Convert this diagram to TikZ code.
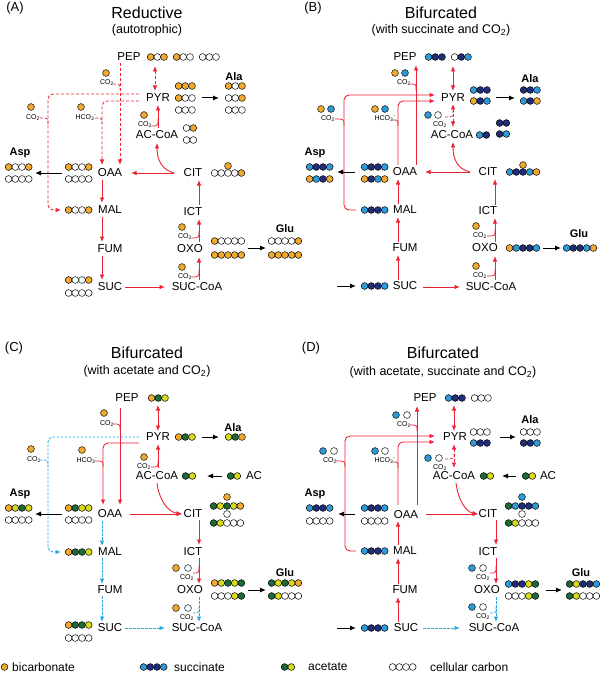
\documentclass[tikz,border=0pt]{standalone}
\usepackage{fontspec}
\setmainfont{Liberation Sans}
\usetikzlibrary{arrows.meta}
\definecolor{co}{HTML}{F2A930}
\definecolor{cw}{HTML}{FFFFFF}
\definecolor{cl}{HTML}{2E9AD8}
\definecolor{cd}{HTML}{1E2D7C}
\definecolor{cg}{HTML}{1B6B35}
\definecolor{cy}{HTML}{D9DA1F}
\definecolor{cred}{HTML}{EE2233}
\definecolor{cblue}{HTML}{29A8E0}
\newcommand\crow[3]{\foreach \mycol [count=\myi from 0] in {#3}{\filldraw[fill=\mycol,draw=black,line width=0.5pt] ({#1+3.6+\myi*6.7},#2) circle (3.4pt);}}
\newcommand\onec[3]{\filldraw[fill=#3,draw=black,line width=0.5pt] (#1,#2) circle (3.4pt);}
\newcommand\COtwo{CO\textsubscript{2}}
\newcommand\HCOthree{HCO\textsubscript{3}\textsuperscript{-}}
\begin{document}
\begin{tikzpicture}[x=1pt,y=-1pt,
 >={Latex[length=5.5pt,width=4.5pt]},
 met/.style={font=\fontsize{11.5}{12}\selectfont,inner sep=0pt},
 ttl/.style={font=\fontsize{16}{17}\selectfont,inner sep=0pt},
 subt/.style={font=\fontsize{12.5}{13}\selectfont,inner sep=0pt},
 lab/.style={font=\fontsize{13}{14}\selectfont,inner sep=0pt},
 prod/.style={font=\bfseries\fontsize{11}{12}\selectfont,inner sep=0pt},
 sm/.style={font=\fontsize{7}{8}\selectfont,inner sep=0pt},
 leg/.style={font=\fontsize{12}{13}\selectfont,inner sep=0pt,anchor=west},
 rln/.style={cred,line width=0.9pt},
 rarr/.style={cred,line width=0.9pt,->},
 rdsh/.style={dash pattern=on 3pt off 2pt},
 bdsh/.style={cblue,line width=0.9pt,dash pattern=on 2.5pt off 1.5pt},
 hk/.style={cred,line width=0.7pt},
 karr/.style={black,line width=1pt,-{Latex[length=6pt,width=5pt]}}]
\useasboundingbox (0,0) rectangle (606,687);
\fill[white] (0,0) rectangle (606,687);

% ================= Panel A =================
\node[lab] (lA) at (15,8) {(A)};
\node[ttl] (tA) at (147,13) {Reductive};
\node[subt] (sA) at (147,30) {(autotrophic)};
\draw[rln,rdsh,->] (120,63) -- (120,165);
\draw[rln,rdsh,->,rounded corners=5pt] (139,94) -- (48,94) -- (48,210) -- (61,210);
\draw[rln,rdsh,->,rounded corners=5pt] (139,101) -- (102,101) -- (102,165);
\draw[rln,rdsh,<->] (155,66) -- (155,91);
\draw[rarr] (158,128) -- (158,105);
\draw[rarr] (174,173) -- (131,173);
\draw[rarr] (174,173) .. controls (162,170) and (157,160) .. (157,143);
\draw[rarr] (102,180) -- (102,203);
\draw[rarr] (102,217) -- (102,242);
\draw[rarr] (102,256) -- (102,280);
\draw[rarr] (125,287) -- (165,287);
\draw[rarr] (199,280) -- (199,257);
\draw[rarr] (199,242) -- (199,219);
\draw[rarr] (199,205) -- (199,180);
\draw[hk,rdsh] (113,84) .. controls (120,84) .. (120,90);
\draw[hk,rdsh] (40,118) .. controls (48,118) .. (48,124);
\draw[hk,rdsh] (95,118) .. controls (102,118) .. (102,124);
\draw[hk] (151,126) .. controls (158,126) .. (158,119);
\draw[hk] (191,277) .. controls (199,277) .. (199,270);
\draw[hk] (191,238) .. controls (199,238) .. (199,231);
\draw[karr] (202,98) -- (219,98);
\draw[karr] (62,173) -- (35,173);
\draw[karr] (248,248) -- (266,248);
\node[met] (aPEP) at (129,57) {PEP};
\node[met] (aPYR) at (158,98) {PYR};
\node[met] (aACC) at (157,135) {AC-CoA};
\node[met] (aOAA) at (110,173) {OAA};
\node[met] (aCIT) at (193,173) {CIT};
\node[met] (aMAL) at (110,210) {MAL};
\node[met] (aICT) at (193,212) {ICT};
\node[met] (aFUM) at (110,249) {FUM};
\node[met] (aOXO) at (190,249) {OXO};
\node[met] (aSUC) at (110,287) {SUC};
\node[met] (aSCA) at (197,287) {SUC-CoA};
\node[prod] (aAla) at (234,77) {Ala};
\node[prod] (aAsp) at (20,153) {Asp};
\node[prod] (aGlu) at (285,229) {Glu};
\onec{106}{73}{co}\node[sm] (ac1) at (107,83) {\COtwo};
\onec{31}{107}{co}\node[sm] (ac2) at (33,118) {\COtwo};
\onec{81}{107}{co}\node[sm] (ac3) at (86,118) {\HCOthree};
\onec{144}{115}{co}\node[sm] (ac4) at (145,125) {\COtwo};
\onec{182}{227}{co}\node[sm] (ac5) at (185,237) {\COtwo};
\onec{182}{267}{co}\node[sm] (ac6) at (185,277) {\COtwo};
\crow{147}{57}{co,cw,co}\crow{173}{57}{co,cw,cw}\crow{199}{57}{cw,cw,cw}
\crow{175}{86}{co,co,co}\crow{175}{98}{co,cw,cw}\crow{175}{110}{cw,cw,cw}
\crow{225}{86}{co,cw,co}\crow{225}{98}{cw,cw,co}\crow{225}{110}{cw,cw,cw}
\crow{183}{128}{cw,co}\crow{183}{140}{cw,cw}
\onec{228}{166}{co}\crow{211}{173}{cw,cw,cw,cw,co}
\crow{65}{167}{co,cw,cw,co}\crow{65}{179}{cw,cw,cw,cw}
\crow{5}{167}{co,cw,cw,co}\crow{5}{179}{cw,cw,cw,cw}
\crow{65}{210}{co,cw,cw,co}
\crow{65}{280}{co,cw,cw,co}\crow{65}{293}{cw,cw,cw,cw}
\crow{211}{241}{co,cw,cw,cw,cw}\crow{211}{255}{co,co,co,co,co}
\crow{268}{241}{cw,cw,cw,cw,co}\crow{268}{255}{co,co,co,co,co}

% ================= Panel B =================
\node[lab] (lB) at (313,8) {(B)};
\node[ttl] (tB) at (441,13) {Bifurcated};
\node[subt] (sB) at (441,30) {(with succinate and \COtwo)};
\draw[rarr] (416,165) -- (416,65);
\draw[rarr,rounded corners=5pt] (398,165) -- (398,101) -- (435,101);
\draw[rarr,rounded corners=5pt] (356,210) -- (344,210) -- (344,95) -- (435,95);
\draw[rln,<->] (453,66) -- (453,91);
\draw[rln,rdsh,<->] (453,104) -- (453,127);
\draw[rarr] (470,172) -- (425,172);
\draw[rarr] (470,172) .. controls (458,169) and (453,160) .. (453,142);
\draw[rarr] (398,204) -- (398,179);
\draw[rarr] (398,242) -- (398,217);
\draw[rarr] (398,280) -- (398,255);
\draw[rarr] (423,287) -- (460,287);
\draw[rarr] (495,280) -- (495,256);
\draw[rarr] (495,242) -- (495,218);
\draw[rarr] (495,205) -- (495,179);
\draw[hk] (410,84) .. controls (416,84) .. (416,90);
\draw[hk] (335,119) .. controls (344,119) .. (344,125);
\draw[hk] (393,120) .. controls (398,120) .. (398,126);
\draw[hk,rdsh] (445,117) .. controls (453,117) .. (453,110);
\draw[hk] (487,236) .. controls (495,236) .. (495,230);
\draw[hk] (487,276) .. controls (495,276) .. (495,270);
\draw[karr] (496,98) -- (515,98);
\draw[karr] (355,172) -- (337,172);
\draw[karr] (543,248) -- (561,248);
\draw[karr] (337,286) -- (356,286);
\node[met] (bPEP) at (405,57) {PEP};
\node[met] (bPYR) at (453,98) {PYR};
\node[met] (bACC) at (452,135) {AC-CoA};
\node[met] (bOAA) at (405,172) {OAA};
\node[met] (bCIT) at (488,172) {CIT};
\node[met] (bMAL) at (405,210) {MAL};
\node[met] (bICT) at (488,211) {ICT};
\node[met] (bFUM) at (405,248) {FUM};
\node[met] (bOXO) at (485,248) {OXO};
\node[met] (bSUC) at (405,286) {SUC};
\node[met] (bSCA) at (491,287) {SUC-CoA};
\node[prod] (bAla) at (530,79) {Ala};
\node[prod] (bAsp) at (315,153) {Asp};
\node[prod] (bGlu) at (579,234) {Glu};
\onec{395}{73}{co}\onec{405}{73}{cl}\node[sm] (bc1) at (404,83) {\COtwo};
\onec{321}{109}{co}\onec{331}{109}{cl}\node[sm] (bc2) at (328,119) {\COtwo};
\onec{375}{109}{co}\onec{385}{109}{cl}\node[sm] (bc3) at (385,119) {\HCOthree};
\onec{428}{115}{cl}\onec{438}{115}{cw}\node[sm] (bc4) at (440,125) {\COtwo};
\onec{476}{226}{co}\node[sm] (bc5) at (480,236) {\COtwo};
\onec{476}{266}{co}\node[sm] (bc6) at (480,276) {\COtwo};
\crow{425}{57}{cl,cd,cd}\crow{451}{57}{cw,cd,cl}
\crow{470}{90}{cl,cd,cd}\crow{470}{101}{co,cd,cl}
\crow{520}{90}{cd,cd,cl}\crow{520}{101}{cl,cd,co}
\crow{476}{135}{cl,cd}\crow{496}{123}{cd,cd}\crow{496}{134}{cd,cl}
\onec{523}{165}{co}\crow{506}{172}{cl,cd,cd,cl,co}
\crow{361}{167}{cl,cd,cd,cl}\crow{361}{179}{co,cd,cl,co}
\crow{306}{167}{cl,cd,cd,cl}\crow{306}{179}{co,cl,cd,co}
\crow{361}{210}{cl,cd,cd,cl}
\crow{361}{286}{cl,cd,cd,cl}
\crow{506}{248}{co,cl,cd,cd,cl}
\crow{563}{248}{cl,cd,cd,cl,co}

% ================= Panel C =================
\node[lab] (lC) at (14,348) {(C)};
\node[ttl] (tC) at (147,353) {Bifurcated};
\node[subt] (sC) at (147,371) {(with acetate and \COtwo)};
\draw[rarr] (120,408) -- (120,505);
\draw[bdsh,->,rounded corners=5pt] (139,437) -- (48,437) -- (48,552) -- (61,552);
\draw[rarr,rounded corners=5pt] (139,443) -- (103,443) -- (103,505);
\draw[rln,<->] (158,405) -- (158,431);
\draw[rarr] (158,468) -- (158,444);
\draw[rarr] (157,483) .. controls (159,500) and (168,512) .. (182,514);
\draw[rarr] (130,514) -- (182,514);
\draw[rarr] (199,520) -- (199,545);
\draw[rarr] (199,558) -- (199,584);
\draw[bdsh,->] (199,597) -- (199,622);
\draw[bdsh,->] (102,521) -- (102,546);
\draw[bdsh,->] (102,558) -- (102,584);
\draw[bdsh,->] (102,596) -- (102,622);
\draw[bdsh,->] (125,628) -- (165,628);
\draw[hk] (113,424) .. controls (120,424) .. (120,430);
\draw[bdsh,line width=0.7pt] (40,460) .. controls (48,460) .. (48,466);
\draw[hk] (95,461) .. controls (103,461) .. (103,467);
\draw[hk] (151,467) .. controls (158,467) .. (158,461);
\draw[hk] (193,573) .. controls (199,573) .. (199,566);
\draw[bdsh,line width=0.7pt] (193,613) .. controls (199,613) .. (199,606);
\draw[karr] (202,437) -- (219,437);
\draw[karr] (222,476) -- (207,476);
\draw[karr] (62,514) -- (35,514);
\draw[karr] (248,590) -- (266,590);
\node[met] (cPEP) at (127,398) {PEP};
\node[met] (cPYR) at (158,437) {PYR};
\node[met] (cACC) at (157,476) {AC-CoA};
\node[met] (cAC) at (254,476) {AC};
\node[met] (cOAA) at (110,514) {OAA};
\node[met] (cCIT) at (193,514) {CIT};
\node[met] (cMAL) at (110,552) {MAL};
\node[met] (cICT) at (193,552) {ICT};
\node[met] (cFUM) at (110,590) {FUM};
\node[met] (cOXO) at (190,590) {OXO};
\node[met] (cSUC) at (110,628) {SUC};
\node[met] (cSCA) at (197,628) {SUC-CoA};
\node[prod] (cAla) at (233,428) {Ala};
\node[prod] (cAsp) at (20,494) {Asp};
\node[prod] (cGlu) at (285,573) {Glu};
\onec{104}{413}{co}\node[sm] (cc1) at (107,424) {\COtwo};
\onec{31}{449}{co}\node[sm] (cc2) at (34,460) {\COtwo};
\onec{82}{450}{co}\node[sm] (cc3) at (87,461) {\HCOthree};
\onec{144}{457}{co}\node[sm] (cc4) at (144,467) {\COtwo};
\onec{176}{568}{co}\onec{188}{568}{cw}\node[sm] (cc5) at (187,578) {\COtwo};
\onec{176}{608}{co}\onec{188}{608}{cw}\node[sm] (cc6) at (187,618) {\COtwo};
\crow{148}{398}{co,cg,cy}
\crow{175}{437}{co,cg,cy}
\crow{225}{437}{cy,cg,co}
\crow{182}{476}{cg,cy}
\crow{227}{476}{cg,cy}
\onec{227}{497}{co}\crow{210}{506}{cg,cy,cg,cy,co}
\onec{227}{514}{cw}\crow{210}{523}{cg,cy,cw,cw,cw}
\crow{65}{508}{co,cg,cy,cy}\crow{65}{520}{cw,cw,cw,cw}
\crow{5}{508}{co,cy,cg,cy}\crow{5}{520}{cw,cw,cw,cw}
\crow{65}{552}{co,cg,cg,cy}
\crow{65}{625}{co,cg,cg,cy}\crow{65}{638}{cw,cw,cw,cw}
\crow{211}{583}{co,cy,cg,cy,cg}\crow{211}{596}{cw,cw,cw,cy,cg}
\crow{268}{583}{cg,cy,cg,cy,co}\crow{268}{596}{cg,cy,cw,cw,cw}

% ================= Panel D =================
\node[lab] (lD) at (311,348) {(D)};
\node[ttl] (tD) at (443,353) {Bifurcated};
\node[subt] (sD) at (443,372) {(with acetate, succinate and \COtwo)};
\draw[rarr] (417,505) -- (417,406);
\draw[rarr,rounded corners=5pt] (398,505) -- (398,442) -- (435,442);
\draw[rarr,rounded corners=5pt] (356,551) -- (345,551) -- (345,436) -- (435,436);
\draw[rln,<->] (454,405) -- (454,431);
\draw[rln,rdsh,<->] (454,444) -- (454,468);
\draw[rarr] (456,483) .. controls (458,500) and (466,512) .. (478,514);
\draw[rarr] (426,514) -- (478,514);
\draw[rarr] (496,520) -- (496,545);
\draw[rarr] (496,558) -- (496,584);
\draw[bdsh,->] (496,597) -- (496,622);
\draw[rarr] (398,545) -- (398,521);
\draw[rarr] (398,584) -- (398,558);
\draw[rarr] (398,622) -- (398,597);
\draw[bdsh,->] (423,628) -- (460,628);
\draw[hk] (410,425) .. controls (417,425) .. (417,431);
\draw[hk] (336,461) .. controls (345,461) .. (345,467);
\draw[hk] (393,462) .. controls (398,462) .. (398,468);
\draw[hk,rdsh] (445,459) .. controls (454,459) .. (454,452);
\draw[hk] (490,573) .. controls (496,573) .. (496,566);
\draw[bdsh,line width=0.7pt] (490,613) .. controls (496,613) .. (496,606);
\draw[karr] (500,437) -- (516,437);
\draw[karr] (516,476) -- (502,476);
\draw[karr] (355,514) -- (338,514);
\draw[karr] (546,590) -- (562,590);
\draw[karr] (337,628) -- (356,628);
\node[met] (dPEP) at (425,398) {PEP};
\node[met] (dPYR) at (455,437) {PYR};
\node[met] (dACC) at (454,476) {AC-CoA};
\node[met] (dAC) at (548,476) {AC};
\node[met] (dOAA) at (406,515) {OAA};
\node[met] (dCIT) at (488,514) {CIT};
\node[met] (dMAL) at (405,551) {MAL};
\node[met] (dICT) at (488,552) {ICT};
\node[met] (dFUM) at (405,590) {FUM};
\node[met] (dOXO) at (487,590) {OXO};
\node[met] (dSUC) at (406,628) {SUC};
\node[met] (dSCA) at (494,628) {SUC-CoA};
\node[prod] (dAla) at (530,420) {Ala};
\node[prod] (dAsp) at (315,494) {Asp};
\node[prod] (dGlu) at (581,573) {Glu};
\onec{396}{415}{cl}\onec{407}{415}{cw}\node[sm] (dc1) at (404,425) {\COtwo};
\onec{323}{451}{cl}\onec{334}{451}{cw}\node[sm] (dc2) at (330,461) {\COtwo};
\onec{375}{451}{cl}\onec{385}{451}{cw}\node[sm] (dc3) at (385,461) {\HCOthree};
\onec{428}{458}{cl}\onec{439}{458}{cw}\node[sm] (dc4) at (440,468) {\COtwo};
\onec{472}{568}{cl}\onec{483}{568}{cw}\node[sm] (dc5) at (483,578) {\COtwo};
\onec{472}{607}{cl}\onec{483}{607}{cw}\node[sm] (dc6) at (483,617) {\COtwo};
\crow{445}{398}{cl,cd,cd}\crow{471}{398}{cw,cw,cw}
\crow{470}{432}{cw,cw,cw}\crow{470}{443}{cl,cd,cd}
\crow{520}{432}{cw,cw,cw}\crow{520}{443}{cd,cd,cl}
\crow{480}{476}{cg,cy}\crow{522}{476}{cg,cy}
\onec{522}{497}{cl}\crow{505}{506}{cg,cl,cd,cd,cl}
\onec{522}{514}{cw}\crow{505}{523}{cg,cy,cw,cw,cw}
\crow{361}{508}{cl,cd,cd,cl}\crow{361}{521}{cw,cw,cw,cw}
\crow{306}{508}{cl,cd,cd,cl}\crow{306}{521}{cw,cw,cw,cw}
\crow{361}{551}{cl,cd,cd,cl}
\crow{361}{628}{cl,cd,cd,cl}
\crow{505}{584}{cl,cd,cd,cy,cg}\crow{505}{596}{cw,cw,cw,cy,cg}
\crow{566}{584}{cg,cy,cd,cd,cl}\crow{566}{596}{cg,cy,cw,cw,cw}

% ================= Legend =================
\onec{4.5}{667}{co}\node[leg] (l1) at (12,667) {bicarbonate};
\crow{140}{667}{cl,cd,cd,cl}\node[leg] (l2) at (174,667) {succinate};
\crow{281}{667}{cg,cy}\node[leg] (l3) at (308,667) {acetate};
\crow{389}{667}{cw,cw,cw,cw}\node[leg] (l4) at (430,667) {cellular carbon};
\end{tikzpicture}
\end{document}
